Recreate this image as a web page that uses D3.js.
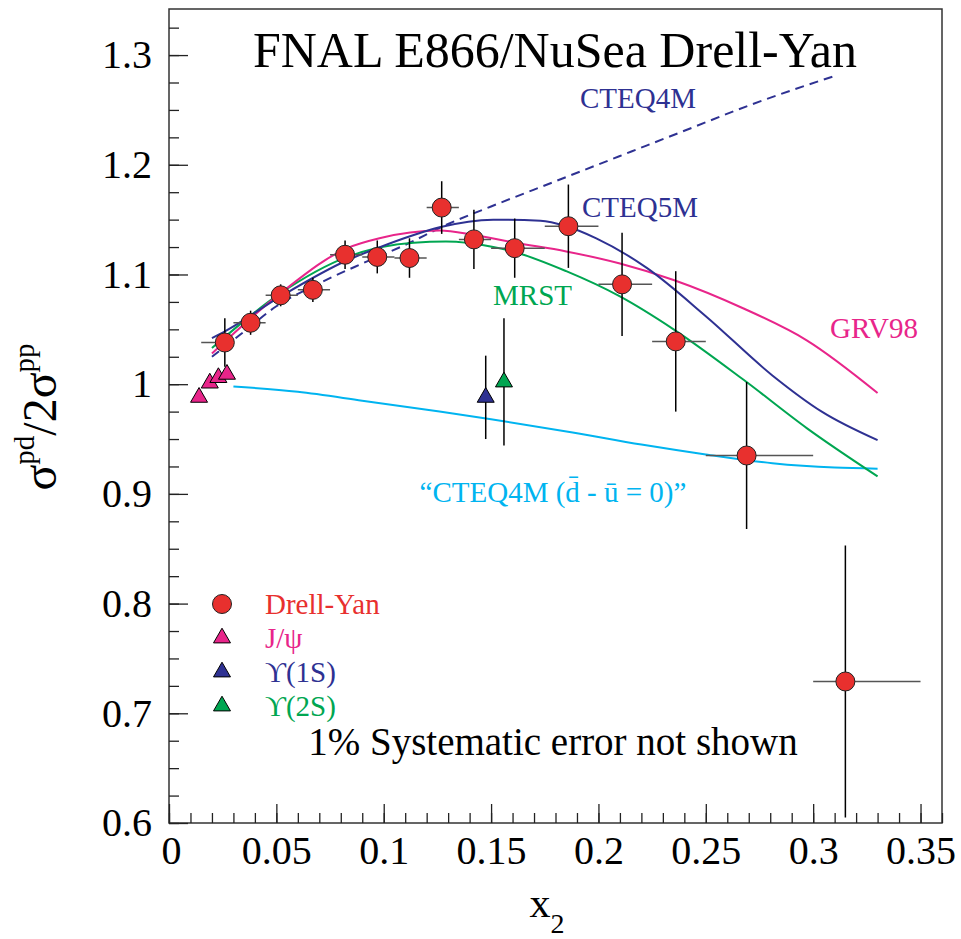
<!DOCTYPE html>
<html>
<head>
<meta charset="utf-8">
<script src="https://cdn.jsdelivr.net/npm/d3@7"></script>
<style>
    body { margin: 0; background: #fff; }
    svg { display: block; font-family: 'Liberation Serif', 'Times New Roman', serif; }
    .axis path, .axis line { stroke: #222; stroke-width: 1.3; }
    .axis text { font-size: 40px; fill: #000; font-family: 'Liberation Serif', 'Times New Roman', serif; }
</style>
</head>
<body>
<svg width="961" height="939"></svg>
<script>
// Drell-Yan ratio (E866)
const dyX = [0.026, 0.038, 0.052, 0.067, 0.082, 0.097, 0.112, 0.127, 0.142, 0.161, 0.186, 0.211, 0.236, 0.269, 0.315];
const dyLo = [0.015, 0.03, 0.045, 0.06, 0.075, 0.09, 0.105, 0.12, 0.135, 0.15, 0.175, 0.2, 0.225, 0.25, 0.3];
const dyHi = [0.03, 0.045, 0.06, 0.075, 0.09, 0.105, 0.12, 0.135, 0.15, 0.175, 0.2, 0.225, 0.25, 0.3, 0.35];
const dyRatio = [1.038, 1.056, 1.081, 1.086, 1.118, 1.116, 1.115, 1.161, 1.132, 1.124, 1.144, 1.091, 1.039, 0.935, 0.729];
const dyErr = [0.022, 0.011, 0.010, 0.011, 0.013, 0.015, 0.018, 0.024, 0.027, 0.027, 0.038, 0.047, 0.064, 0.067, 0.124];

// J/psi and upsilon points
const jpsiX = [0.014, 0.019, 0.023, 0.027];
const jpsiRatio = [0.988, 1.001, 1.006, 1.009];
const ups1X = [0.1475];
const ups1Ratio = [0.988];
const ups1Err = [0.038];
const ups2X = [0.156];
const ups2Ratio = [1.002];
const ups2Err = [0.058];

// calculations
const cteq4mX = [0.020, 0.035, 0.050, 0.070, 0.090, 0.110, 0.130, 0.150, 0.180, 0.210, 0.240, 0.270, 0.310];
const cteq4mY = [1.025, 1.048, 1.071, 1.092, 1.110, 1.127, 1.146, 1.162, 1.185, 1.208, 1.231, 1.254, 1.281];
const cteq5mX = [0.020, 0.025, 0.052, 0.083, 0.097, 0.114, 0.126, 0.151, 0.173, 0.185, 0.199, 0.2225, 0.250, 0.281, 0.304, 0.330];
const cteq5mY = [1.042, 1.047, 1.080, 1.113, 1.124, 1.136, 1.143, 1.150, 1.149, 1.144, 1.133, 1.106, 1.062, 1.008, 0.975, 0.949];
const grv98X = [0.020, 0.052, 0.083, 0.098, 0.126, 0.142, 0.161, 0.185, 0.210, 0.235, 0.2676, 0.297, 0.330];
const grv98Y = [1.028, 1.083, 1.124, 1.133, 1.140, 1.136, 1.129, 1.121, 1.110, 1.095, 1.069, 1.040, 0.992];
const mrstX = [0.020, 0.052, 0.083, 0.114, 0.129, 0.151, 0.160, 0.185, 0.210, 0.235, 0.2676, 0.297, 0.330];
const mrstY = [1.033, 1.083, 1.116, 1.129, 1.130, 1.125, 1.121, 1.103, 1.080, 1.050, 1.004, 0.960, 0.916];
const symX = [0.030, 0.060, 0.090, 0.126, 0.150, 0.188, 0.220, 0.250, 0.281, 0.310, 0.330];
const symY = [0.998, 0.993, 0.985, 0.975, 0.968, 0.956, 0.945, 0.936, 0.928, 0.924, 0.923];

const xTicks = [0, 0.05, 0.1, 0.15, 0.2, 0.25, 0.3, 0.35];
const yTicks = [0.6, 0.7, 0.8, 0.9, 1, 1.1, 1.2, 1.3];

const legendLabels = ['Drell-Yan', 'J/\u03c8', '\u03d2(1S)', '\u03d2(2S)'];

const colors = {
    red: '#e8302e',
    pink: '#e8258a',
    blue: '#2e3192',
    green: '#00a651',
    cyan: '#00b4f0'
};

const chart = () => {
    const margin = { top: 9, right: 19, bottom: 116, left: 169 };
    const w = 961;
    const h = 939;
    const width = w - margin.left - margin.right;
    const height = h - margin.top - margin.bottom;

    const svg = d3.select('svg');
    const g = svg.append('g').attr('transform', `translate(${margin.left},${margin.top})`);

    const x = d3.scaleLinear().domain([0, 0.36]).range([0, width]);
    const y = d3.scaleLinear().domain([0.6, 1.342]).range([height, 0]);

    // frame
    g.append('rect')
        .attr('width', width)
        .attr('height', height)
        .attr('fill', 'none')
        .attr('stroke', '#333')
        .attr('stroke-width', 1.5);

    // minor ticks
    g.append('g')
        .attr('class', 'axis')
        .attr('transform', `translate(0,${height})`)
        .call(d3.axisBottom(x).tickValues(d3.range(0, 0.3601, 0.01)).tickSize(-10).tickFormat(''))
        .call((a) => a.select('.domain').remove());

    g.append('g')
        .attr('class', 'axis')
        .call(d3.axisLeft(y).tickValues(d3.range(0.6, 1.3401, 0.025)).tickSize(-10).tickFormat(''))
        .call((a) => a.select('.domain').remove());

    // major ticks
    g.append('g')
        .attr('class', 'axis axis-x')
        .attr('transform', `translate(0,${height})`)
        .call(d3.axisBottom(x).tickValues(xTicks).tickSize(-19).tickPadding(13).tickFormat(d3.format('~g')))
        .call((a) => a.select('.domain').remove());

    g.append('g')
        .attr('class', 'axis axis-y')
        .call(d3.axisLeft(y).tickValues(yTicks).tickSize(-19).tickPadding(17).tickFormat(d3.format('~g')))
        .call((a) => a.select('.domain').remove());

    g.selectAll('.axis-x text').attr('dx', (d, i) => (i === 0 ? 2 : 0));

    // curves
    const curves = [
        { xs: cteq4mX, ys: cteq4mY, color: colors.blue, dash: '9,6' },
        { xs: symX, ys: symY, color: colors.cyan, dash: null },
        { xs: mrstX, ys: mrstY, color: colors.green, dash: null },
        { xs: grv98X, ys: grv98Y, color: colors.pink, dash: null },
        { xs: cteq5mX, ys: cteq5mY, color: colors.blue, dash: null }
    ];

    const line = d3.line()
        .x((d) => x(d[0]))
        .y((d) => y(d[1]))
        .curve(d3.curveMonotoneX);

    g.append('g')
        .selectAll('path')
        .data(curves)
        .enter()
        .append('path')
        .attr('d', (c) => line(c.xs.map((v, i) => [v, c.ys[i]])))
        .attr('fill', 'none')
        .attr('stroke', (c) => c.color)
        .attr('stroke-width', 2)
        .attr('stroke-dasharray', (c) => c.dash);

    // drell-yan error bars
    const dy = dyX.map((v, i) => ({ x: v, lo: dyLo[i], hi: dyHi[i], r: dyRatio[i], e: dyErr[i] }));

    const bars = g.append('g');

    bars.selectAll('.hbar')
        .data(dy)
        .enter()
        .append('line')
        .attr('class', 'hbar')
        .attr('x1', (d) => x(d.lo))
        .attr('x2', (d) => x(d.hi))
        .attr('y1', (d) => y(d.r))
        .attr('y2', (d) => y(d.r))
        .attr('stroke', '#555')
        .attr('stroke-width', 1.5);

    bars.selectAll('.vbar')
        .data(dy)
        .enter()
        .append('line')
        .attr('class', 'vbar')
        .attr('x1', (d) => x(d.x))
        .attr('x2', (d) => x(d.x))
        .attr('y1', (d) => y(d.r - d.e))
        .attr('y2', (d) => y(d.r + d.e))
        .attr('stroke', '#000')
        .attr('stroke-width', 1.5);

    const ups = [
        { x: ups1X[0], r: ups1Ratio[0], e: ups1Err[0], color: colors.blue },
        { x: ups2X[0], r: ups2Ratio[0], e: ups2Err[0], color: colors.green }
    ];

    bars.selectAll('.ubar')
        .data(ups)
        .enter()
        .append('line')
        .attr('class', 'ubar')
        .attr('x1', (d) => x(d.x))
        .attr('x2', (d) => x(d.x))
        .attr('y1', (d) => y(d.r - d.e))
        .attr('y2', (d) => y(d.r + d.e))
        .attr('stroke', '#000')
        .attr('stroke-width', 1.5);

    // markers
    const tri = d3.symbol().type(d3.symbolTriangle).size(125);

    g.append('g')
        .selectAll('path')
        .data(jpsiX.map((v, i) => ({ x: v, r: jpsiRatio[i], color: colors.pink })).concat(ups))
        .enter()
        .append('path')
        .attr('d', tri)
        .attr('transform', (d) => `translate(${x(d.x)},${y(d.r)})`)
        .attr('fill', (d) => d.color)
        .attr('stroke', '#000')
        .attr('stroke-width', 1);

    g.append('g')
        .selectAll('circle')
        .data(dy)
        .enter()
        .append('circle')
        .attr('cx', (d) => x(d.x))
        .attr('cy', (d) => y(d.r))
        .attr('r', 9.5)
        .attr('fill', colors.red)
        .attr('stroke', '#222')
        .attr('stroke-width', 1);

    // legend
    const legendColors = [colors.red, colors.pink, colors.blue, colors.green];
    const legend = svg.append('g').attr('transform', 'translate(222,604)');

    legendLabels.forEach((label, i) => {
        const row = legend.append('g').attr('transform', `translate(0,${i * 34})`);
        if (i === 0) {
            row.append('circle').attr('r', 9.5).attr('fill', legendColors[i]).attr('stroke', '#222');
        } else {
            row.append('path').attr('d', tri).attr('fill', legendColors[i]).attr('stroke', '#000');
        }
        row.append('text')
            .attr('x', 43)
            .attr('y', 10)
            .attr('font-size', 29)
            .attr('fill', legendColors[i])
            .text(label);
    });

    // titles and labels
    const addText = (tx, ty, txt, size, color, anchor) =>
        svg.append('text')
            .attr('x', tx)
            .attr('y', ty)
            .attr('font-size', size)
            .attr('fill', color)
            .attr('text-anchor', anchor || 'start')
            .text(txt);

    addText(555, 67, 'FNAL E866/NuSea Drell-Yan', 50, '#000', 'middle');
    addText(580, 108, 'CTEQ4M', 29, colors.blue);
    addText(582, 217, 'CTEQ5M', 29, colors.blue);
    addText(493, 305, 'MRST', 29, colors.green);
    addText(830, 338, 'GRV98', 29, colors.pink);
    addText(553, 502, '\u201cCTEQ4M (d\u0304 - \u016b = 0)\u201d', 29, colors.cyan, 'middle');
    addText(553, 755, '1% Systematic error not shown', 39, '#000', 'middle');

    const ytitle = svg.append('text')
        .attr('transform', 'translate(56,417) rotate(-90)')
        .attr('text-anchor', 'middle')
        .attr('font-size', 48);
    ytitle.append('tspan').text('\u03c3');
    ytitle.append('tspan').attr('font-size', 29).attr('dy', -22).text('pd');
    ytitle.append('tspan').attr('dy', 22).text('/2\u03c3');
    ytitle.append('tspan').attr('font-size', 29).attr('dy', -22).text('pp');

    const xtitle = svg.append('text')
        .attr('x', 547)
        .attr('y', 917)
        .attr('text-anchor', 'middle')
        .attr('font-size', 42);
    xtitle.append('tspan').text('x');
    xtitle.append('tspan').attr('font-size', 28).attr('dy', 16).text('2');
};

chart();
</script>
</body>
</html>
